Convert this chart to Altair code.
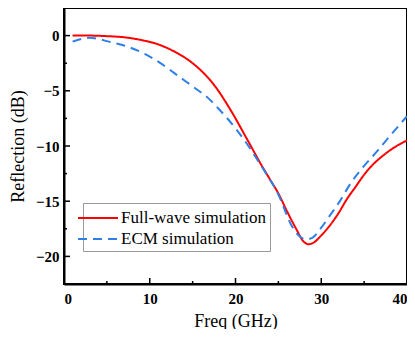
import altair as alt
import pandas as pd

full_x = [1, 3, 5, 7, 9, 11, 13, 15, 17, 18, 19, 20, 21, 22, 23, 24, 25, 26, 27, 28, 28.5, 29, 30, 31, 32, 33, 34, 35, 36, 37, 38, 39, 40]
full_y = [0, 0, -0.05, -0.15, -0.4, -0.8, -1.5, -2.5, -4.0, -5.0, -6.2, -7.5, -8.9, -10.3, -11.7, -13.0, -14.3, -15.9, -17.4, -18.7, -18.9, -18.8, -18.1, -17.2, -16.1, -14.8, -13.7, -12.6, -11.7, -11.0, -10.4, -9.9, -9.5]

ecm_x = [1, 2, 3, 4, 5, 7, 9, 10, 12, 13.4, 15, 17, 18, 20, 21.6, 23, 25, 26.6, 27.5, 28.3, 29, 30, 31, 32, 33.5, 35, 36.6, 38, 40]
ecm_y = [-0.55, -0.3, -0.2, -0.3, -0.5, -0.9, -1.5, -1.9, -2.9, -3.7, -4.6, -5.8, -6.6, -8.4, -10.1, -11.8, -14.4, -17.3, -18.2, -18.45, -18.3, -17.4, -16.3, -15.2, -13.3, -11.8, -10.4, -9.1, -7.3]

series_names = ["Full-wave simulation", "ECM simulation"]
series_colors = ["#ff0000", "#2f7fe6"]

x_labels = [0, 10, 20, 30, 40]
y_major = [-20, -15, -10, -5, 0]
y_minor = [-17.5, -12.5, -7.5, -2.5]
x_major = [10, 20, 30]
x_minor = [5, 15, 25, 35]

df = pd.concat([
    pd.DataFrame({"freq": full_x, "refl": full_y, "series": series_names[0]}),
    pd.DataFrame({"freq": ecm_x, "refl": ecm_y, "series": series_names[1]}),
])

FONT = "Liberation Serif"
xscale = alt.Scale(domain=[0, 40], nice=False)
yscale = alt.Scale(domain=[-22.5, 2.5], nice=False)
xaxis = alt.Axis(values=x_labels, format="d")
yaxis = alt.Axis(values=y_major, format="d")
XT = "Freq (GHz)"
YT = "Reflection (dB)"

leg = alt.Legend(title=None, orient="none", legendX=19, legendY=195)
lines = alt.Chart(df).mark_line(strokeWidth=2, interpolate="monotone").encode(
    x=alt.X("freq:Q", scale=xscale, title=XT, axis=xaxis),
    y=alt.Y("refl:Q", scale=yscale, title=YT, axis=yaxis),
    color=alt.Color("series:N", sort=series_names,
                    scale=alt.Scale(domain=series_names, range=series_colors), legend=leg),
    strokeDash=alt.StrokeDash("series:N", sort=series_names,
                              scale=alt.Scale(domain=series_names, range=[[1, 0], [9, 6]]), legend=leg),
)

ymaj = alt.Chart(pd.DataFrame({"refl": y_major})).mark_rule(color="black", strokeWidth=1.5).encode(
    y=alt.Y("refl:Q", scale=yscale, title=YT, axis=yaxis), x=alt.value(0), x2=alt.value(6))
ymin = alt.Chart(pd.DataFrame({"refl": y_minor})).mark_rule(color="black", strokeWidth=1.5).encode(
    y=alt.Y("refl:Q", scale=yscale, title=YT, axis=yaxis), x=alt.value(0), x2=alt.value(3))
xmaj = alt.Chart(pd.DataFrame({"freq": x_major})).mark_rule(color="black", strokeWidth=1.5).encode(
    x=alt.X("freq:Q", scale=xscale, title=XT, axis=xaxis), y=alt.value(276), y2=alt.value(270))
xmin = alt.Chart(pd.DataFrame({"freq": x_minor})).mark_rule(color="black", strokeWidth=1.5).encode(
    x=alt.X("freq:Q", scale=xscale, title=XT, axis=xaxis), y=alt.value(276), y2=alt.value(273))

chart = alt.layer(lines, ymaj, ymin, xmaj, xmin).properties(
    width=343, height=276,
    autosize=alt.AutoSizeParams(type="none"),
    padding={"left": 56, "top": 0, "right": 0, "bottom": 45},
).configure_view(
    stroke="black", strokeWidth=2
).configure_axis(
    grid=False, ticks=False, tickSize=0, domainColor="black", domainWidth=2,
    labelFont=FONT, labelFontSize=15, labelFontWeight="bold", labelColor="black",
    titleFont=FONT, titleFontSize=18, titleFontWeight="normal", titleColor="black",
).configure_axisX(
    labelPadding=7, titlePadding=6
).configure_axisY(
    labelPadding=5, titlePadding=8
).configure_legend(
    labelFont=FONT, labelFontSize=17, labelColor="black",
    symbolType="M-2,0H2", symbolSize=400, symbolStrokeWidth=2,
    strokeColor="#9a9a9a", fillColor="white", padding=4, rowPadding=2,
    labelOffset=12,
)

chart.save("out.html", embed_options={"renderer": "svg", "actions": False})
